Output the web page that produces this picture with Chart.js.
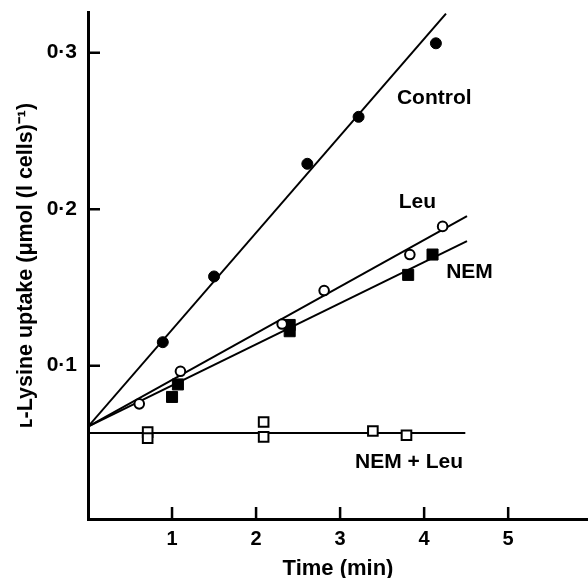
<!DOCTYPE html>
<html lang="en">
<head>
    <meta charset="UTF-8">
    <title>L-Lysine uptake</title>
    <script src="https://cdn.jsdelivr.net/npm/chart.js"></script>
    <style>
        body {
            margin: 0;
            background-color: #fff;
        }
        #chartBox {
            width: 588px;
            height: 578px;
        }
    </style>
</head>
<body>
    <div id="chartBox"><canvas id="uptakeChart" width="588" height="578"></canvas></div>
    <script>
        // values
        const controlTime = [0.89, 1.50, 2.61, 3.22, 4.14];
        const controlUptake = [0.115, 0.157, 0.229, 0.259, 0.306];
        const leuTime = [0.61, 1.10, 2.31, 2.81, 3.83, 4.22];
        const leuUptake = [0.0756, 0.0964, 0.1266, 0.148, 0.171, 0.189];
        const nemTime = [1.00, 1.07, 2.40, 2.40, 3.81, 4.10];
        const nemUptake = [0.080, 0.088, 0.126, 0.122, 0.158, 0.171];
        const nemLeuTime = [0.71, 0.71, 2.09, 2.09, 3.39, 3.79];
        const nemLeuUptake = [0.0575, 0.0537, 0.064, 0.0545, 0.0582, 0.0555];

        // fitted lines: [time, uptake] at start and end
        const fitNames = ['Control', 'Leu', 'NEM', 'NEM + Leu'];
        const fitStart = [[0, 0.061], [0, 0.061], [0, 0.061], [0, 0.057]];
        const fitEnd = [[4.26, 0.325], [4.51, 0.1955], [4.51, 0.1796], [4.49, 0.057]];

        const xTicks = [1, 2, 3, 4, 5];
        const yTicks = [0.1, 0.2, 0.3];

        // where the line names sit, in data units
        const labelSpots = [[4.12, 0.271], [3.92, 0.2045], [4.54, 0.1595], [3.82, 0.038]];

        const FONT = '"Liberation Sans", Arial, sans-serif';

        function pts(xs, ys) {
            return xs.map((x, i) => ({ x: x, y: ys[i] }));
        }

        const lineSets = fitNames.map((name, i) => ({
            type: 'line',
            label: name + ' fit',
            data: [{ x: fitStart[i][0], y: fitStart[i][1] }, { x: fitEnd[i][0], y: fitEnd[i][1] }],
            borderColor: '#000',
            borderWidth: 2,
            pointRadius: 0,
            fill: false,
            order: 2,
        }));

        const pointSets = [
            { label: 'Control', data: pts(controlTime, controlUptake), pointStyle: 'circle', pointRadius: 5.5, backgroundColor: '#000', borderColor: '#000', borderWidth: 1 },
            { label: 'Leu', data: pts(leuTime, leuUptake), pointStyle: 'circle', pointRadius: 4.8, backgroundColor: '#fff', borderColor: '#000', borderWidth: 2 },
            { label: 'NEM', data: pts(nemTime, nemUptake), pointStyle: 'rect', pointRadius: 7.8, backgroundColor: '#000', borderColor: '#000', borderWidth: 1 },
            { label: 'NEM + Leu', data: pts(nemLeuTime, nemLeuUptake), pointStyle: 'rect', pointRadius: 6.8, backgroundColor: '#fff', borderColor: '#000', borderWidth: 2 },
        ].map(d => Object.assign({ type: 'scatter', showLine: false, order: 1 }, d));

        const inwardTicks = {
            id: 'inwardTicks',
            afterDraw(chart) {
                const ctx = chart.ctx;
                const xs = chart.scales.x;
                const ys = chart.scales.y;
                const x0 = xs.getPixelForValue(0);
                const yBase = ys.bottom;
                ctx.save();
                ctx.strokeStyle = '#000';
                ctx.lineWidth = 2.5;
                ctx.beginPath();
                xTicks.forEach(t => {
                    const px = xs.getPixelForValue(t);
                    ctx.moveTo(px, yBase);
                    ctx.lineTo(px, yBase - 12);
                });
                yTicks.forEach(t => {
                    const py = ys.getPixelForValue(t);
                    ctx.moveTo(x0, py);
                    ctx.lineTo(x0 + 12, py);
                });
                ctx.stroke();

                ctx.fillStyle = '#000';
                ctx.font = 'bold 21px ' + FONT;
                ctx.textAlign = 'center';
                ctx.textBaseline = 'middle';
                fitNames.forEach((name, i) => {
                    ctx.fillText(name, xs.getPixelForValue(labelSpots[i][0]), ys.getPixelForValue(labelSpots[i][1]));
                });
                ctx.restore();
            }
        };

        new Chart(document.getElementById('uptakeChart').getContext('2d'), {
            data: { datasets: lineSets.concat(pointSets) },
            options: {
                responsive: false,
                animation: false,
                layout: { autoPadding: false, padding: { top: 12, right: 0, left: 0, bottom: 0 } },
                plugins: {
                    legend: { display: false },
                    tooltip: { enabled: false },
                },
                scales: {
                    x: {
                        type: 'linear',
                        min: 0,
                        max: 5.95,
                        afterFit: s => { s.height = 59; s.paddingLeft = 0; s.paddingRight = 0; },
                        afterBuildTicks: s => { s.ticks = xTicks.map(v => ({ value: v })); },
                        grid: { display: false, drawTicks: false },
                        border: { display: true, color: '#000', width: 3 },
                        ticks: {
                            padding: 8,
                            color: '#000',
                            font: { family: FONT, size: 20, weight: 'bold' },
                            callback: v => String(v),
                        },
                        title: {
                            display: true,
                            text: 'Time (min)',
                            color: '#000',
                            font: { family: FONT, size: 22, weight: 'bold', lineHeight: 0.8 },
                            padding: { top: 0, bottom: 0 },
                        },
                    },
                    y: {
                        type: 'linear',
                        min: 0.002,
                        max: 0.326,
                        afterFit: s => { s.width = 88; s.paddingTop = 0; s.paddingBottom = 0; },
                        afterBuildTicks: s => { s.ticks = yTicks.map(v => ({ value: v })); },
                        grid: { display: false, drawTicks: false },
                        border: { display: true, color: '#000', width: 3 },
                        ticks: {
                            padding: 11,
                            color: '#000',
                            font: { family: FONT, size: 21, weight: 'bold' },
                            callback: v => v.toFixed(1).replace('.', '\u00b7'),
                        },
                        title: {
                            display: true,
                            text: '\u029f-Lysine uptake (\u03bcmol (l cells)\u207b\u00b9)',
                            color: '#000',
                            font: { family: FONT, size: 21.5, weight: 'bold', lineHeight: 1 },
                            padding: { top: 15, bottom: 0 },
                        },
                    },
                },
            },
            plugins: [inwardTicks],
        });
    </script>
</body>
</html>
